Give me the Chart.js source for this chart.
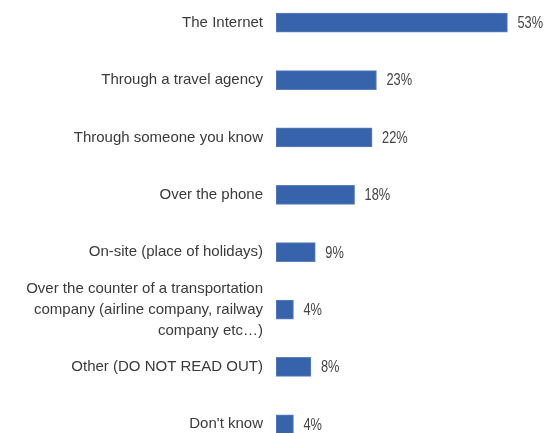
<!DOCTYPE html>
<html>
<head>
<meta charset="utf-8">
<script src="https://cdn.jsdelivr.net/npm/chart.js@4"></script>
<style>
    html, body { margin: 0; padding: 0; background: #fff; overflow: hidden; }
    #wrap { position: absolute; left: 0; top: -6px; width: 545px; height: 459px; }
</style>
</head>
<body>
<div id="wrap"><canvas id="myChart"></canvas></div>
<script>
// Chart data
const categories = [
    'The Internet',
    'Through a travel agency',
    'Through someone you know',
    'Over the phone',
    'On-site (place of holidays)',
    ['Over the counter of a transportation', 'company (airline company, railway', 'company etc\u2026)'],
    'Other (DO NOT READ OUT)',
    "Don't know"
];
const shares = [53, 23, 22, 18, 9, 4, 8, 4];
const valueLabels = ['53%', '23%', '22%', '18%', '9%', '4%', '8%', '4%'];

// Draw the percentage after each bar (narrow look like the original)
const valueLabelPlugin = {
    id: 'valueLabels',
    afterDatasetsDraw(chart) {
        const ctx = chart.ctx;
        const meta = chart.getDatasetMeta(0);
        meta.data.forEach((bar, i) => {
            ctx.save();
            ctx.fillStyle = '#454545';
            ctx.font = "16px 'Liberation Sans', Arial, sans-serif";
            ctx.textAlign = 'left';
            ctx.textBaseline = 'middle';
            ctx.translate(bar.x + 10, bar.y + 1);
            ctx.scale(0.8, 1);
            ctx.fillText(valueLabels[i], 0, 0);
            ctx.restore();
        });
    }
};

const ctx = document.getElementById('myChart').getContext('2d');

const chart = new Chart(ctx, {
    type: 'bar',
    data: {
        labels: categories,
        datasets: [{
            data: shares,
            backgroundColor: '#3762ac',
            borderColor: '#5b80c0',
            borderWidth: 1,
            borderSkipped: false,
            barThickness: 19
        }]
    },
    options: {
        indexAxis: 'y',
        responsive: true,
        maintainAspectRatio: false,
        animation: false,
        layout: { padding: { left: 0, right: 7, top: 0, bottom: 0 } },
        plugins: {
            legend: { display: false },
            tooltip: { enabled: false }
        },
        scales: {
            x: {
                display: false,
                min: 0,
                max: 60
            },
            y: {
                afterFit(axis) {
                    axis.width = 276;
                    axis.paddingTop = 0;
                    axis.paddingBottom = 0;
                },
                grid: { display: false, drawTicks: false },
                border: { display: false },
                ticks: {
                    autoSkip: false,
                    padding: 13,
                    color: '#3a3a3a',
                    font: { family: "'Liberation Sans', Arial, sans-serif", size: 15, lineHeight: 1.4 }
                }
            }
        }
    },
    plugins: [valueLabelPlugin]
});
</script>
</body>
</html>
